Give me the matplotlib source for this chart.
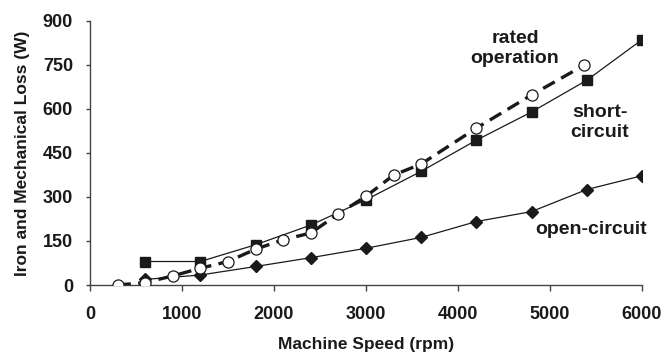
import matplotlib
matplotlib.use("Agg")
from matplotlib import pyplot as plt

# speeds (rpm) and losses (W)
sc_speed = [600, 1200, 1800, 2400, 3000, 3600, 4200, 4800, 5400, 6000]
sc_loss = [80, 80, 137, 204, 290, 387, 493, 589, 697, 835]

oc_speed = [600, 1200, 1800, 2400, 3000, 3600, 4200, 4800, 5400, 6000]
oc_loss = [19, 34, 63, 93, 125, 162, 216, 250, 325, 372]

rated_speed = [300, 600, 900, 1200, 1500, 1800, 2100, 2400, 2700, 3000,
               3300, 3600, 4200, 4800, 5370]
rated_loss = [0, 8, 31, 57, 80, 122, 154, 177, 242, 302,
              374, 412, 534, 647, 748]

x_ticks = [0, 1000, 2000, 3000, 4000, 5000, 6000]
y_ticks = [0, 150, 300, 450, 600, 750, 900]

plt.rcParams['font.family'] = ['Liberation Sans', 'DejaVu Sans']
plt.rcParams['font.weight'] = 'bold'
ink = '#1a1a1a'

fig = plt.figure(figsize=(6.68, 3.62), dpi=100)
ax = fig.add_axes([0.1347, 0.2127, 0.8263, 0.7303])

# short-circuit
ax.plot(sc_speed, sc_loss, color=ink, lw=0.9, marker='s', ms=6.5,
        mfc=ink, mec=ink, zorder=3)
# open-circuit
ax.plot(oc_speed, oc_loss, color=ink, lw=0.9, marker='D', ms=6,
        mfc=ink, mec=ink, zorder=3)
# rated operation
ax.plot(rated_speed, rated_loss, color=ink, lw=2.4, ls=(0, (4, 2.2)),
        marker='o', ms=8, mfc='white', mec=ink, mew=0.9, zorder=4)

ax.set_xlim(0, 6000)
ax.set_ylim(0, 900)
ax.set_xticks(x_ticks)
ax.set_yticks(y_ticks)
ax.tick_params(axis='both', direction='out', width=1,
               color='#444444', labelsize=13, labelcolor=ink)
ax.tick_params(axis='x', length=4.3, pad=11)
ax.tick_params(axis='y', length=3.2, pad=9)
for lab in ax.get_xticklabels() + ax.get_yticklabels():
    lab.set_fontweight('bold')

for s in ['top', 'right']:
    ax.spines[s].set_visible(False)
for s in ['left', 'bottom']:
    ax.spines[s].set_color('#444444')
    ax.spines[s].set_linewidth(1)

ax.set_xlabel('Machine Speed (rpm)', fontsize=12.5, fontweight='bold',
              color=ink, labelpad=10)
ax.set_ylabel('Iron and Mechanical Loss (W)', fontsize=12.5, fontweight='bold',
              color=ink, labelpad=9)

ax.text(4620, 805, 'rated\noperation', ha='center', va='center',
        fontsize=14, fontweight='bold', color=ink, linespacing=1.2)
ax.text(5540, 553, 'short-\ncircuit', ha='center', va='center',
        fontsize=14, fontweight='bold', color=ink, linespacing=1.2)
ax.text(5450, 188, 'open-circuit', ha='center', va='center',
        fontsize=14, fontweight='bold', color=ink)

fig.savefig('out.png', dpi=100)
